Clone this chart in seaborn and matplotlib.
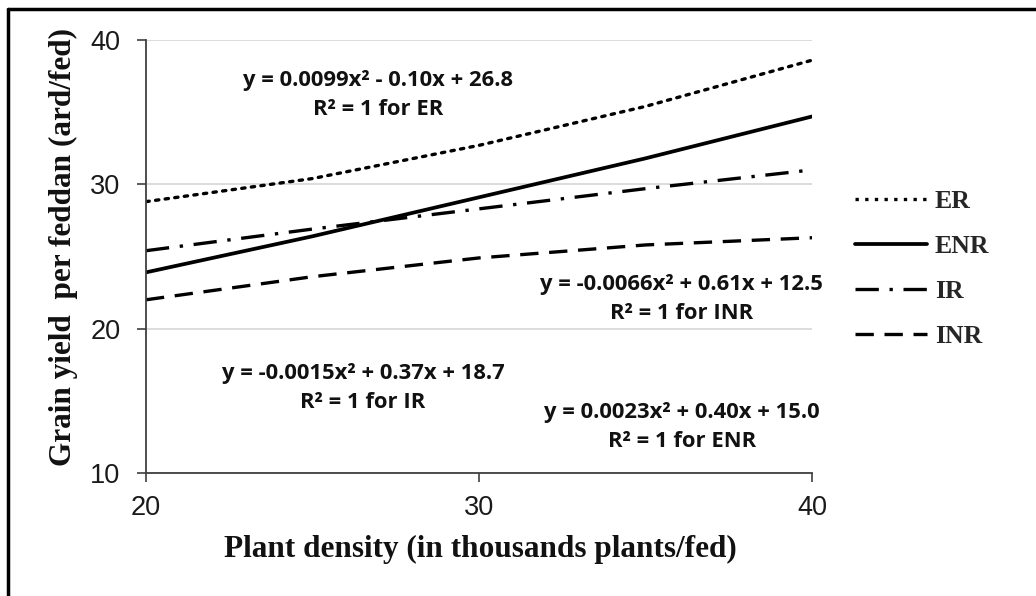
import matplotlib
matplotlib.use("Agg")
import matplotlib.pyplot as plt
from matplotlib.lines import Line2D
import seaborn as sns
import pandas as pd

# ---- data ----
density = [20, 25, 30, 35, 40]
er = [28.8, 30.4, 32.7, 35.4, 38.6]
enr = [23.9, 26.4, 29.1, 31.8, 34.7]
ir = [25.4, 26.9, 28.3, 29.7, 31.0]
inr = [22.0, 23.6, 24.9, 25.8, 26.3]
series_names = ["ER", "ENR", "IR", "INR"]
x_ticks = [20, 30, 40]
y_ticks = [10, 20, 30, 40]

equations = [
    ("y = 0.0099x² - 0.10x + 26.8\nR² = 1 for ER", 26.97, 36.2),
    ("y = -0.0066x² + 0.61x + 12.5\nR² = 1 for INR", 36.07, 22.03),
    ("y = -0.0015x² + 0.37x + 18.7\nR² = 1 for IR", 26.52, 15.92),
    ("y = 0.0023x² + 0.40x + 15.0\nR² = 1 for ENR", 36.10, 13.2),
]

df = pd.DataFrame({
    "density": density * 4,
    "yield": er + enr + ir + inr,
    "series": sum([[s] * len(density) for s in series_names], []),
})

sns.set_theme(style="white")
plt.rcParams["font.family"] = ["Liberation Sans", "DejaVu Sans"]

fig = plt.figure(figsize=(10.36, 5.96), dpi=100)
ax = fig.add_axes([0.1409, 0.2064, 0.6429, 0.7265])

styles = {
    "ER": dict(dashes=(1.0, 1.9), lw=2.4, dash_capstyle="round"),
    "ENR": dict(dashes=(), lw=2.7),
    "IR": dict(dashes=(7, 3.2, 1, 3.2), lw=2.4),
    "INR": dict(dashes=(5.5, 3.2), lw=2.4),
}

handles = []
for s in series_names:
    sub = df[df["series"] == s]
    st = styles[s]
    sns.lineplot(data=sub, x="density", y="yield", ax=ax, color="black",
                 linewidth=st["lw"], legend=False)
    ln = ax.get_lines()[-1]
    if st["dashes"]:
        ln.set_dashes(st["dashes"])
    if "dash_capstyle" in st:
        ln.set_dash_capstyle(st["dash_capstyle"])
    h = Line2D([0], [0], color="black", lw=st["lw"])
    if st["dashes"]:
        h.set_dashes(st["dashes"])
    handles.append(h)

ax.set_xlim(20, 40)
ax.set_ylim(10, 40)
ax.set_xticks(x_ticks)
ax.set_yticks(y_ticks)
ax.yaxis.grid(True, color="#d9d9d9", lw=1.3)
ax.xaxis.grid(False)
ax.set_axisbelow(True)
for sp in ["top", "right"]:
    ax.spines[sp].set_visible(False)
for sp in ["left", "bottom"]:
    ax.spines[sp].set_color("#404040")
    ax.spines[sp].set_linewidth(1.3)
ax.tick_params(axis="both", direction="out", length=6.5, width=1.2,
               color="#404040", labelsize=19.5, labelcolor="#1a1a1a",
               left=True, bottom=True)
ax.tick_params(axis="x", pad=9)
ax.tick_params(axis="y", pad=12)

serif = ["Liberation Serif", "DejaVu Serif"]
ax.set_xlabel("Plant density (in thousands plants/fed)", family=serif,
              fontsize=22.5, fontweight="bold", color="#111111")
ax.set_ylabel("Grain yield  per feddan (ard/fed)", family=serif,
              fontsize=22.5, fontweight="bold", color="#111111")
ax.xaxis.set_label_coords(0.5015, -0.176)
ax.xaxis.label.set_va("center")
ax.yaxis.set_label_coords(-0.1236, 0.522)
ax.yaxis.label.set_va("center")

for txt, xx, yy in equations:
    ax.text(xx, yy, txt, ha="center", va="center", multialignment="center",
            family=["Open Sans", "DejaVu Sans"], fontweight="bold",
            fontsize=15.8, linespacing=1.5, color="#111111")

leg = fig.legend(handles, series_names, loc="upper left",
                 bbox_to_anchor=(855 / 1036, 1 - 190 / 596),
                 frameon=False, borderpad=0, borderaxespad=0,
                 handlelength=2.8, handletextpad=0.3, labelspacing=0.86,
                 prop=dict(family=serif, weight="bold", size=18.5))

# figure frame (top and left edges)
fig.add_artist(Line2D([8 / 1036, 1.0], [1 - 9 / 596, 1 - 9 / 596],
                      transform=fig.transFigure, color="black", lw=2.5))
fig.add_artist(Line2D([8 / 1036, 8 / 1036], [0.0, 1 - 9 / 596],
                      transform=fig.transFigure, color="black", lw=2.5))

fig.savefig("out.png", dpi=100)
